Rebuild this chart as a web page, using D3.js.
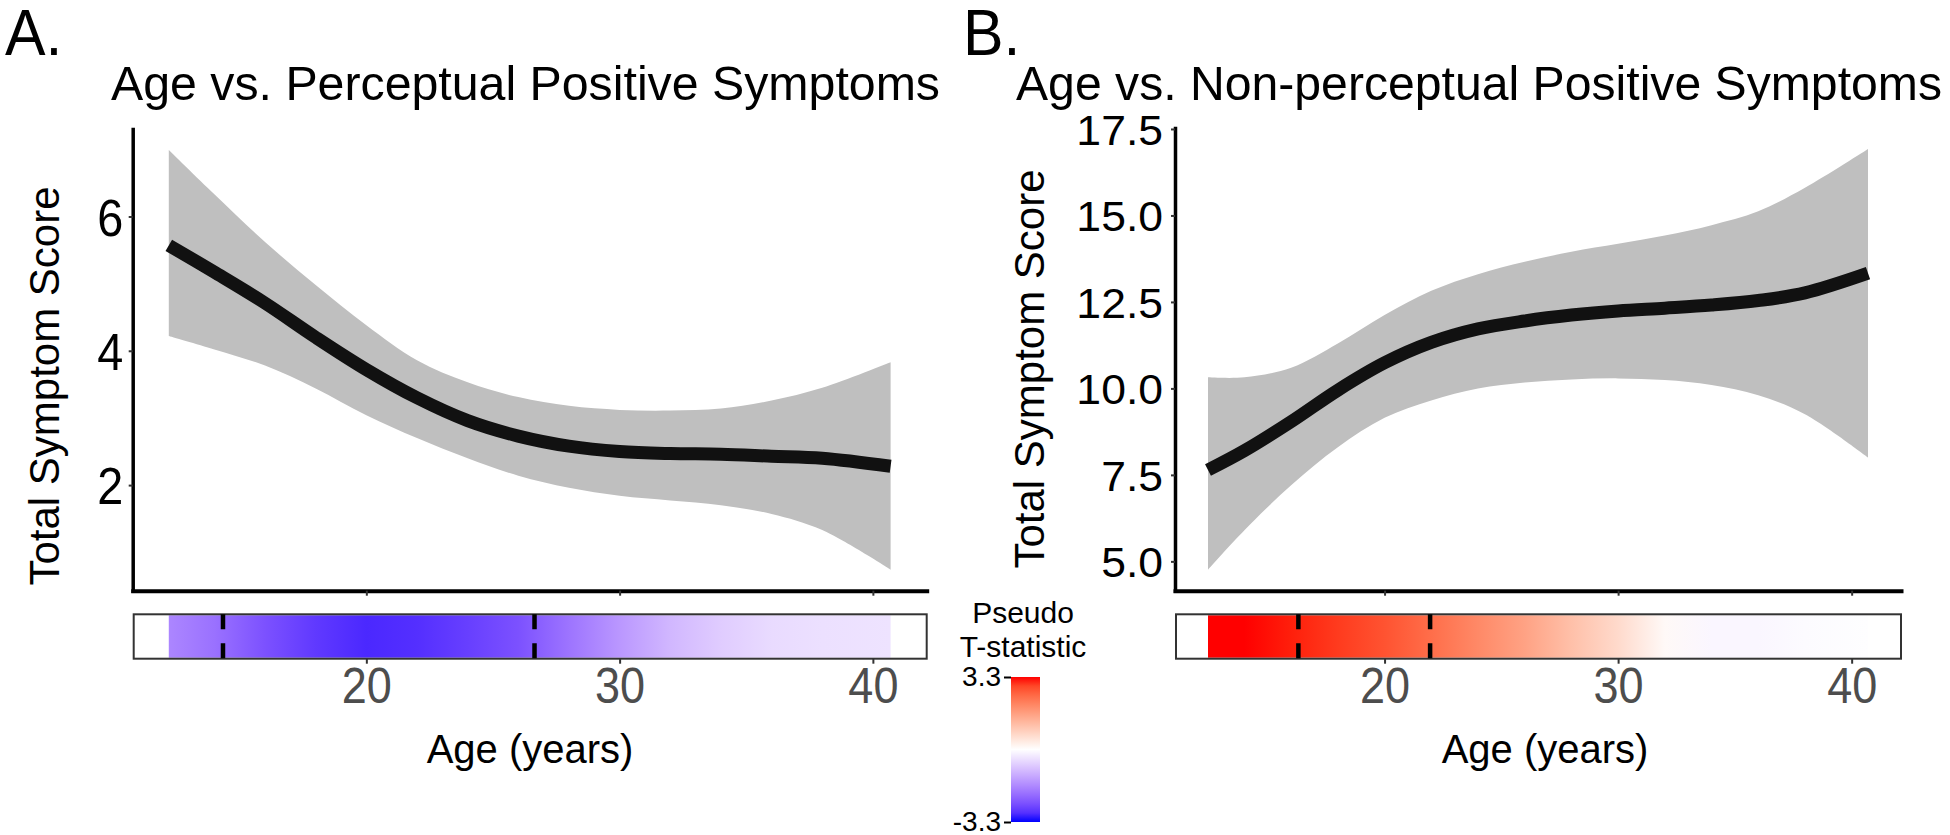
<!DOCTYPE html>
<html>
<head>
<meta charset="utf-8">
<script src="https://cdn.jsdelivr.net/npm/d3@7"></script>
<style>
  body { margin: 0; background: #fff; }
  svg { display: block; font-family: "Liberation Sans", Arial, Helvetica, sans-serif; }
</style>
</head>
<body>
<script>
// values, one entry per age
var agesA = [12.2, 14, 16, 18, 20, 22, 24, 26, 28, 30, 32, 34, 36, 38, 40.7];
var fitA = [5.57, 5.17, 4.71, 4.20, 3.72, 3.30, 2.96, 2.73, 2.58, 2.50, 2.47, 2.46, 2.43, 2.40, 2.28];
var upperA = [6.99, 6.33, 5.62, 4.98, 4.38, 3.86, 3.53, 3.31, 3.18, 3.12, 3.11, 3.14, 3.26, 3.45, 3.83];
var lowerA = [4.22, 4.02, 3.78, 3.44, 3.04, 2.70, 2.40, 2.14, 1.96, 1.84, 1.77, 1.70, 1.57, 1.33, 0.74];
var tstatA = [-1.7, -2.0, -2.45, -2.78, -2.98, -2.9, -2.7, -2.45, -1.95, -1.45, -1.0, -0.7, -0.5, -0.42, -0.38];
var sigA = [14.34, 26.64];

var agesB = [12.44, 14, 16, 18, 20, 22, 24, 26, 28, 30, 32, 34, 36, 38, 40.7];
var fitB = [7.64, 8.2, 9.04, 9.95, 10.74, 11.33, 11.72, 11.95, 12.12, 12.24, 12.32, 12.41, 12.54, 12.76, 13.33];
var upperB = [10.32, 10.32, 10.6, 11.3, 12.12, 12.82, 13.3, 13.66, 13.95, 14.18, 14.42, 14.72, 15.12, 15.8, 16.92];
var lowerB = [4.76, 5.9, 7.2, 8.3, 9.15, 9.65, 10.0, 10.17, 10.26, 10.29, 10.24, 10.1, 9.8, 9.25, 8.0];
var tstatB = [3.4, 3.35, 3.2, 3.0, 2.75, 2.4, 2.0, 1.6, 1.1, 0.65, 0.1, -0.12, -0.12, -0.06, -0.02];
var sigB = [16.31, 21.95];

var xTicks = [20, 30, 40];
var yTicksA = [2, 4, 6];
var yTicksB = [5, 7.5, 10, 12.5, 15, 17.5];
var legendLimits = [-3.3, 3.3];

var svg = d3.select('body').append('svg').attr('width', 1950).attr('height', 835);
var defs = svg.append('defs');

var color = d3.scaleLinear()
    .domain([legendLimits[0], 0, legendLimits[1]])
    .range(['#0000ff', '#ffffff', '#ff0000'])
    .interpolate(d3.interpolateLab)
    .clamp(true);

// ggplot style 5% padding of a range
function pad(e) {
    var r = e[1] - e[0];
    return [e[0] - r * 0.05, e[1] + r * 0.05];
}

function txt(parent, x, y, s, size, o) {
    o = o || {};
    var tr = 'translate(' + x + ',' + y + ')';
    if (o.rotate) tr += ' rotate(' + o.rotate + ')';
    if (o.sx) tr += ' scale(' + o.sx + ',1)';
    var t = parent.append('text')
        .attr('transform', tr)
        .attr('font-size', size)
        .attr('text-anchor', o.anchor || 'start')
        .attr('fill', o.fill || '#000')
        .text(s);
    if (o.len) t.attr('textLength', o.len).attr('lengthAdjust', 'spacingAndGlyphs');
    return t;
}

function drawPanel(p) {
    var rows = p.ages.map(function (a, i) {
        return { age: a, fit: p.fit[i], lo: p.lower[i], hi: p.upper[i], t: p.tstat[i] };
    });
    var x = d3.scaleLinear().domain(pad(d3.extent(p.ages))).range([p.left, p.right]);
    var y = d3.scaleLinear().domain(pad([d3.min(p.lower), d3.max(p.upper)])).range([p.bottom, p.top]);
    var curve = d3.curveCatmullRom.alpha(0.5);
    var g = svg.append('g');

    // confidence band + fit
    g.append('path').datum(rows)
        .attr('d', d3.area().curve(curve)
            .x(function (d) { return x(d.age); })
            .y0(function (d) { return y(d.lo); })
            .y1(function (d) { return y(d.hi); }))
        .attr('fill', '#bfbfbf');
    g.append('path').datum(rows)
        .attr('d', d3.line().curve(curve)
            .x(function (d) { return x(d.age); })
            .y(function (d) { return y(d.fit); }))
        .attr('fill', 'none').attr('stroke', '#111').attr('stroke-width', 13);

    // y axis
    var ya = g.append('g')
        .attr('transform', 'translate(' + p.left + ',0)')
        .call(d3.axisLeft(y).tickValues(p.yTicks).tickSize(4).tickSizeOuter(0).tickFormat(p.yFormat));
    ya.attr('font-family', null).attr('font-size', null);
    ya.select('.domain').attr('stroke', '#000').attr('stroke-width', 3.5).attr('stroke-linecap', 'square');
    ya.selectAll('.tick line').attr('stroke', '#333').attr('stroke-width', 2);
    ya.selectAll('.tick text')
        .attr('font-size', p.yFont).attr('fill', '#000')
        .attr('x', -p.yGap / p.ySx).attr('dy', '0.36em')
        .attr('transform', 'scale(' + p.ySx + ',1)');

    // x axis of the smooth panel (ticks, no labels)
    var xa = g.append('g')
        .attr('transform', 'translate(0,' + p.bottom + ')')
        .call(d3.axisBottom(x).tickValues(xTicks).tickSize(5).tickSizeOuter(0).tickFormat(function () { return ''; }));
    xa.select('.domain').attr('stroke', '#000').attr('stroke-width', 4).attr('stroke-linecap', 'square');
    xa.selectAll('.tick line').attr('stroke', '#333').attr('stroke-width', 2);

    // t-statistic strip
    var s0 = 614.3, s1 = 658.7;
    var x0 = x(p.ages[0]), x1 = x(p.ages[p.ages.length - 1]);
    var grad = defs.append('linearGradient').attr('id', 'strip' + p.key)
        .attr('gradientUnits', 'userSpaceOnUse')
        .attr('x1', x0).attr('x2', x1).attr('y1', 0).attr('y2', 0);
    grad.selectAll('stop').data(rows).enter().append('stop')
        .attr('offset', function (d) { return (x(d.age) - x0) / (x1 - x0); })
        .attr('stop-color', function (d) { return color(d.t); });
    g.append('rect').attr('x', x0).attr('y', s0 + 1).attr('width', x1 - x0).attr('height', s1 - s0 - 2)
        .attr('fill', 'url(#strip' + p.key + ')');
    g.append('rect').attr('x', p.left + 1).attr('y', s0).attr('width', p.right - p.left - 1).attr('height', s1 - s0)
        .attr('fill', 'none').attr('stroke', '#333').attr('stroke-width', 2);
    g.selectAll('.sig').data(p.sig).enter().append('line')
        .attr('x1', function (d) { return x(d); }).attr('x2', function (d) { return x(d); })
        .attr('y1', s0).attr('y2', s1)
        .attr('stroke', '#000').attr('stroke-width', 4.5).attr('stroke-dasharray', '15,14');

    var sa = g.append('g')
        .attr('transform', 'translate(0,' + s1 + ')')
        .call(d3.axisBottom(x).tickValues(xTicks).tickSize(5).tickPadding(4).tickSizeOuter(0));
    sa.attr('font-family', null).attr('font-size', null);
    sa.select('.domain').remove();
    sa.selectAll('.tick line').attr('stroke', '#333').attr('stroke-width', 2);
    sa.selectAll('.tick text').attr('font-size', 50).attr('fill', '#4d4d4d')
        .attr('transform', 'scale(0.9,1)');

    // labels
    txt(svg, p.tagX, 55, p.tag, 64, { sx: 0.95 });
    txt(svg, p.titleX, 100, p.title, 48, { anchor: 'start', len: p.titleLen });
    txt(svg, p.yTitleX, p.yTitleY, 'Total Symptom Score', 42, { anchor: 'middle', rotate: -90 });
    txt(svg, p.xTitleX, 763, 'Age (years)', 40, { anchor: 'middle' });
}

drawPanel({
    key: 'A', ages: agesA, fit: fitA, upper: upperA, lower: lowerA, tstat: tstatA, sig: sigA,
    left: 132.7, right: 926.7, top: 129, bottom: 590.7,
    yTicks: yTicksA, yFormat: d3.format('d'), yFont: 52, ySx: 0.9, yGap: 9.5,
    tag: 'A.', tagX: 5, title: 'Age vs. Perceptual Positive Symptoms', titleX: 111, titleLen: 829,
    yTitleX: 59, yTitleY: 386, xTitleX: 530
});
drawPanel({
    key: 'B', ages: agesB, fit: fitB, upper: upperB, lower: lowerB, tstat: tstatB, sig: sigB,
    left: 1175, right: 1901, top: 128, bottom: 590.7,
    yTicks: yTicksB, yFormat: d3.format('.1f'), yFont: 42, ySx: 1.06, yGap: 12,
    tag: 'B.', tagX: 963, title: 'Age vs. Non-perceptual Positive Symptoms', titleX: 1016, titleLen: 926,
    yTitleX: 1044, yTitleY: 369, xTitleX: 1545
});

// colour legend
var lg = svg.append('g');
var ly = d3.scaleLinear().domain(legendLimits).range([822, 677]);
var lgrad = defs.append('linearGradient').attr('id', 'legendGrad')
    .attr('gradientUnits', 'userSpaceOnUse')
    .attr('x1', 0).attr('x2', 0).attr('y1', ly(legendLimits[0])).attr('y2', ly(legendLimits[1]));
var stops = d3.range(0, 1.0001, 1 / 16);
lgrad.selectAll('stop').data(stops).enter().append('stop')
    .attr('offset', function (d) { return d; })
    .attr('stop-color', function (d) { return color(legendLimits[0] + d * (legendLimits[1] - legendLimits[0])); });
lg.append('rect').attr('x', 1011).attr('y', ly(legendLimits[1])).attr('width', 29)
    .attr('height', ly(legendLimits[0]) - ly(legendLimits[1])).attr('fill', 'url(#legendGrad)');
var la = lg.append('g').attr('transform', 'translate(1011,0)')
    .call(d3.axisLeft(ly).tickValues(legendLimits).tickSize(7).tickPadding(3).tickSizeOuter(0)
        .tickFormat(function (d) { return d.toFixed(1); }));
la.attr('font-family', null).attr('font-size', null);
la.select('.domain').remove();
la.selectAll('.tick line').attr('stroke', '#000').attr('stroke-width', 2);
la.selectAll('.tick text').attr('font-size', 28).attr('fill', '#000');
txt(lg, 1023, 623, 'Pseudo', 30, { anchor: 'middle' });
txt(lg, 1023, 657, 'T-statistic', 30, { anchor: 'middle' });
</script>
</body>
</html>
